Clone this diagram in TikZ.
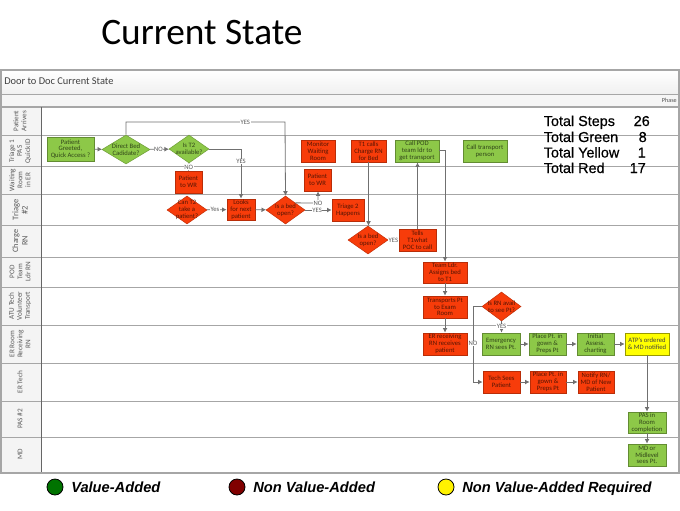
\documentclass[tikz,border=0pt]{standalone}
\usepackage{fontspec}
\setmainfont{Carlito}
\newfontfamily\arialf{Liberation Sans}
\newfontfamily\totalf[FakeBold=0.5]{Liberation Sans}
\usetikzlibrary{shapes.geometric,arrows.meta}
\definecolor{gbox}{HTML}{8DC848}
\definecolor{rbox}{HTML}{F73C0A}
\definecolor{ybox}{HTML}{FFFF00}
\definecolor{lanefill}{HTML}{F4F4F4}
\definecolor{laneline}{HTML}{A6A6A6}
\definecolor{conn}{HTML}{707070}
\tikzset{
  boxbase/.style={rectangle,draw=#1,line width=0.6pt,inner sep=0pt,align=center,font=\fontsize{5}{5.1}\selectfont},
  grnbox/.style={boxbase=gbox!70!black,fill=gbox,text=gbox!35!black},
  redbox/.style={boxbase=rbox!75!black,fill=rbox,text=rbox!35!black},
  yelbox/.style={boxbase=ybox!60!black,fill=ybox,text=black!75},
  gdec/.style={diamond,draw=gbox!80!black,line width=0.4pt,fill=gbox,inner sep=0pt,aspect=1.4},
  rdec/.style={diamond,draw=rbox!80!black,line width=0.4pt,fill=rbox,inner sep=0pt,aspect=1.4},
  dectxt/.style={align=center,inner sep=0pt,font=\fontsize{5}{5.1}\selectfont},
  flowline/.style={draw=conn,line width=0.6pt},
  flowarrow/.style={flowline,-{Latex[length=3.4pt,width=3.6pt]}},
  edgelbl/.style={fill=white,inner sep=0.4pt,text=black!65,font=\fontsize{5}{5}\selectfont},
  lanelbl/.style={rotate=90,align=center,text=black!65,inner sep=0pt,font=\fontsize{5.4}{6}\selectfont},
  lanerule/.style={draw=laneline,line width=0.7pt},
  totals/.style={inner sep=0pt,font=\totalf\fontsize{10.8}{11}\selectfont,text=black},
  legendtxt/.style={inner sep=0pt,anchor=base west,font=\arialf\bfseries\itshape\fontsize{11}{12}\selectfont},
  legenddot/.style={circle,draw=black,line width=0.6pt,minimum size=12pt,inner sep=0pt}
}
% name, x0, y0, x1, y1, style, text
\newcommand{\stepbox}[7]{%
  \pgfmathsetmacro{\cxx}{(#2+#4)/2}\pgfmathsetmacro{\cyy}{(#3+#5)/2}%
  \pgfmathsetmacro{\www}{(#4-#2)*0.75}\pgfmathsetmacro{\hhh}{(#5-#3)*0.75}%
  \node[#6,minimum width=\www pt,minimum height=\hhh pt] (#1) at (\cxx,\cyy) {#7};}
\newcommand{\decbox}[7]{%
  \pgfmathsetmacro{\cxx}{(#2+#4)/2}\pgfmathsetmacro{\cyy}{(#3+#5)/2}%
  \pgfmathsetmacro{\www}{(#4-#2)*0.75}\pgfmathsetmacro{\hhh}{(#5-#3)*0.75}%
  \node[#6,minimum width=\www pt,minimum height=\hhh pt,label={[dectxt,text=#6txt]center:#7}] (#1) at (\cxx,\cyy) {};}
\colorlet{gdectxt}{gbox!35!black}
\colorlet{rdectxt}{rbox!35!black}
\begin{document}
\begin{tikzpicture}[x=0.75pt,y=-0.75pt]
\useasboundingbox (0,0) rectangle (680,510);
\fill[white] (0,0) rectangle (680,510);
% title
\node[anchor=base west,inner sep=0pt,font=\fontsize{28}{30}\selectfont] (title) at (101,45) {Current State};
% frame
\shade[top color=white,bottom color=black!6] (1,70) rectangle (679,94);
\fill[black!4] (1,94) rectangle (679,106);
\fill[lanefill] (1,107) rectangle (41,472);
\fill[black!25] (0,70) rectangle (1.5,473);
\draw[lanerule,line width=1pt] (1,70) rectangle (679,473);
\draw[lanerule] (1,94) -- (679,94);
\draw[lanerule,line width=1.2pt] (1,107) -- (679,107);
\foreach \yy in {135,166,194,225,257,287,325,363,401,437}{\draw[lanerule] (1,\yy) -- (679,\yy);}
\draw[draw=black!60,line width=0.7pt] (41,107) -- (41,472);
\node[anchor=west,inner sep=0pt,text=black!75,font=\fontsize{7.8}{8}\selectfont] (hdr) at (4,81.5) {Door to Doc Current State};
\node[anchor=east,inner sep=0pt,text=black!70,font=\fontsize{4.6}{5}\selectfont] (phase) at (677,100) {Phase};
% lane labels
\node[lanelbl] (l1) at (20,121) {Patient\\Arrives};
\node[lanelbl] (l2) at (20,151) {Triage 1\\PAS\\Quick ID};
\node[lanelbl] (l3) at (20,180) {Waiting\\Room\\in ER};
\node[lanelbl,font=\fontsize{6.4}{7}\selectfont] (l4) at (20,210) {Triage\\\#2};
\node[lanelbl,font=\fontsize{6.2}{7}\selectfont] (l5) at (20,241) {Charge\\RN};
\node[lanelbl] (l6) at (20,272) {POD\\Team\\Ldr RN};
\node[lanelbl] (l7) at (20,306) {ATU Tech\\Volunteer\\Transport};
\node[lanelbl] (l8) at (20,344) {ER Room\\Receiving\\RN};
\node[lanelbl] (l9) at (20,382) {ER Tech};
\node[lanelbl] (l10) at (20,419) {PAS \#2};
\node[lanelbl] (l11) at (20,454) {MD};
% steps
\stepbox{greet}{47}{137}{94}{161}{grnbox}{Patient\\Greeted,\\Quick Access ?}
\decbox{direct}{102}{135}{150}{164}{gdec}{Direct Bed\\Cadidate?}
\decbox{ist}{169}{135}{209}{163}{gdec}{Is T2\\available?}
\stepbox{wra}{175}{171}{202}{193}{redbox}{Patient\\to WR}
\decbox{can}{167}{196}{207}{224}{rdec}{Can T2\\take a\\patient?}
\stepbox{looks}{227}{199}{255}{220}{redbox}{Looks\\for next\\patient}
\decbox{beda}{266}{196}{305}{224}{rdec}{Is a bed\\open?}
\stepbox{wrb}{304}{169}{331}{191}{redbox}{Patient\\to WR}
\stepbox{tri}{332}{199}{364}{221}{redbox}{Triage 2\\Happens}
\stepbox{mon}{301}{140}{335}{162}{redbox}{Monitor\\Waiting\\Room}
\stepbox{tone}{351}{140}{386}{162}{redbox}{T1 calls\\Charge RN\\for Bed}
\stepbox{pod}{395}{140}{439}{162}{grnbox}{Call POD\\team ldr to\\get transport}
\stepbox{trans}{463}{140}{507}{162}{grnbox}{Call transport\\person}
\decbox{bedb}{348}{226}{388}{254}{rdec}{Is a bed\\open?}
\stepbox{tells}{399}{229}{436}{251}{redbox}{Tells\\T1what\\POC to call}
\stepbox{team}{423}{262}{467}{283}{redbox}{Team Ldr.\\Assigns bed\\to T1}
\stepbox{tpt}{423}{296}{467}{318}{redbox}{Transports Pt\\to Exam\\Room}
\stepbox{erx}{423}{333}{467}{355}{redbox}{ER receiving\\RN receives\\patient}
\decbox{avail}{482}{292}{521}{321}{rdec}{Is RN avail\\to see Pt?}
\stepbox{emer}{482}{333}{520}{355}{grnbox}{Emergency\\RN sees Pt.}
\stepbox{pla}{529}{333}{566}{355}{grnbox}{Place Pt. in\\gown \&\\Preps Pt}
\stepbox{init}{577}{333}{614}{355}{grnbox}{Initial\\Assess.\\charting}
\stepbox{atp}{625}{333}{669}{355}{yelbox}{ATP's ordered\\\& MD notified}
\stepbox{tech}{483}{371}{520}{393}{redbox}{Tech Sees\\Patient}
\stepbox{plb}{530}{371}{566}{393}{redbox}{Place Pt. in\\gown \&\\Preps Pt}
\stepbox{noti}{578}{371}{614}{393}{redbox}{Notify RN/\\MD of New\\Patient}
\stepbox{pas}{628}{412}{666}{433}{grnbox}{PAS in\\Room\\completion}
\stepbox{mdn}{628}{444}{666}{466}{grnbox}{MD or\\Midlevel\\sees Pt.}
% connectors
\draw[flowarrow] (greet) -- (direct);
\draw[flowarrow] (direct) -- node[edgelbl,pos=0.45] (n1) {NO} (ist);
\coordinate (c1) at (126,122);
\coordinate (c2) at (285,122);
\draw[flowarrow] (direct.north) -- (c1) -- node[edgelbl,pos=0.75] (y1) {YES} (c2) -- (beda.north);
\coordinate (c3) at (241,149);
\draw[flowarrow] (ist.east) -- (c3) -- node[edgelbl,pos=0.25] (y2) {YES} (looks.north -| c3);
\draw[flowline] (ist.south) -- node[edgelbl,pos=0.5] (n2) {NO} (wra.north);
\draw[flowarrow] (can) -- node[edgelbl,pos=0.4] (y3) {Yes} (looks);
\draw[flowarrow] (looks) -- (beda);
\draw[flowarrow] (beda) -- node[edgelbl,pos=0.45] (y4) {YES} (tri);
\coordinate (c4) at (318,203);
\draw[flowarrow] (beda.north east) -- (c4) -- node[edgelbl,pos=0] (n3) {NO} (wrb.south -| c4);
\draw[flowarrow] (tone.south) -- (tone.south |- bedb.north);
\draw[flowline] (bedb) -- node[edgelbl,pos=0.5] (y5) {YES} (tells);
\draw[flowarrow] (tells.north) -- (tells.north |- pod.south);
\coordinate (c5) at (445,150);
\draw[flowarrow] (pod.east |- c5) -- (c5) -- (team.north -| c5);
\draw[flowarrow] (team.south -| c5) -- (tpt.north -| c5);
\draw[flowarrow] (tpt.south -| c5) -- (erx.north -| c5);
\coordinate (c6) at (473,306.5);
\draw[flowarrow] (avail.west) -- (c6) -- node[edgelbl,pos=0.49] (n4) {NO} (c6 |- tech.west) -- (tech.west);
\draw[flowarrow] (avail.south) -- node[edgelbl,pos=0.45] (y6) {YES} (emer.north -| avail.south);
\draw[flowarrow] (emer) -- (pla);
\draw[flowarrow] (pla) -- (init);
\draw[flowarrow] (init) -- (atp);
\draw[flowarrow] (tech) -- (plb);
\draw[flowarrow] (plb) -- (noti);
\draw[flowarrow] (atp.south) -- (pas.north);
\draw[flowarrow] (pas) -- (mdn);
% totals
\node[totals,anchor=base west] (t1) at (543.5,126) {Total Steps};
\node[totals,anchor=base east] (v1) at (650,126) {26};
\node[totals,anchor=base west] (t2) at (543.5,142) {Total Green};
\node[totals,anchor=base east] (v2) at (647,142) {8};
\node[totals,anchor=base west] (t3) at (543.5,157.5) {Total Yellow};
\node[totals,anchor=base east] (v3) at (646,157.5) {1};
\node[totals,anchor=base west] (t4) at (543.5,173) {Total Red};
\node[totals,anchor=base east] (v4) at (646,173) {17};
% legend
\node[legenddot,fill=green!45!black] (d1) at (55,487) {};
\node[legendtxt] (e1) at (71,492) {Value-Added};
\node[legenddot,fill=red!50!black] (d2) at (237,487) {};
\node[legendtxt] (e2) at (253,492) {Non Value-Added};
\node[legenddot,fill=yellow] (d3) at (446,487) {};
\node[legendtxt] (e3) at (462,492) {Non Value-Added Required};
\end{tikzpicture}
\end{document}
